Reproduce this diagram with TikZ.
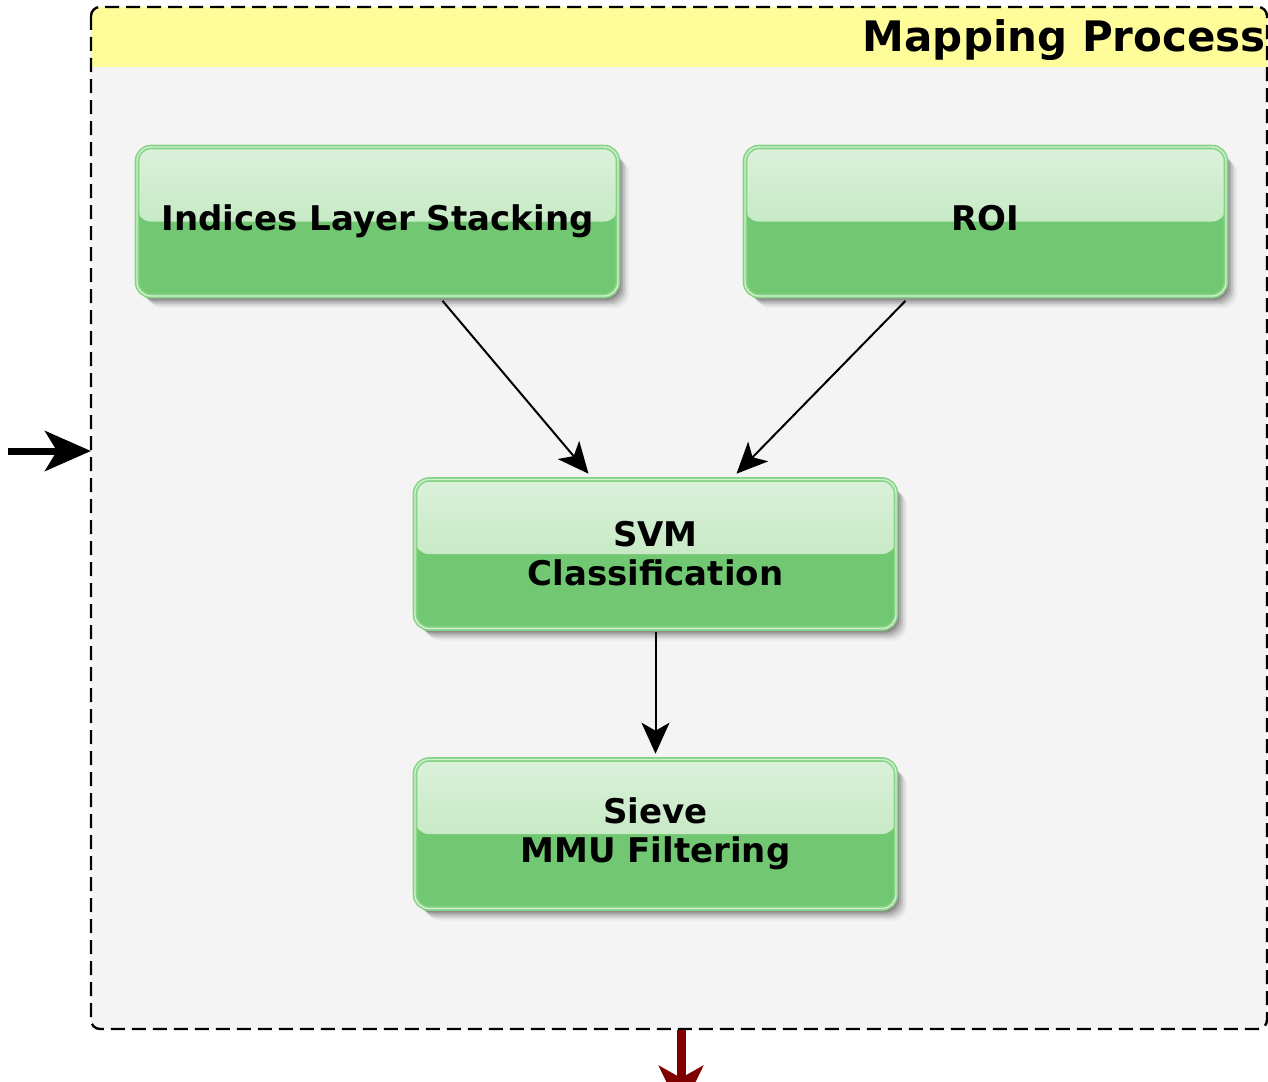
\documentclass[tikz,border=0pt]{standalone}
\usepackage{fontspec}
\setmainfont{DejaVu Sans}
\usetikzlibrary{arrows.meta,shadows}
\definecolor{bgcol}{HTML}{F4F4F4}
\definecolor{bannercol}{HTML}{FFFD99}
\definecolor{lowgreen}{HTML}{72C872}
\definecolor{topgreenA}{HTML}{DAF1DA}
\definecolor{topgreenB}{HTML}{B5E3B1}
\definecolor{edgegreen}{HTML}{86D386}
\definecolor{innerline}{HTML}{D2F0D0}
\definecolor{darkredcol}{HTML}{800000}
\tikzset{
  greenbox/.style={rectangle, rounded corners=14pt, minimum width=481pt, minimum height=149pt,
    draw=edgegreen, line width=1.6pt, double=innerline, double distance=1.4pt,
    fill=lowgreen, align=center,
    font=\fontsize{34}{39}\selectfont\bfseries,
    drop shadow={shadow xshift=3pt, shadow yshift=-4pt, opacity=0.16, fill=black},
    drop shadow={shadow xshift=5pt, shadow yshift=-6pt, opacity=0.13, fill=black},
    drop shadow={shadow xshift=7pt, shadow yshift=-8pt, opacity=0.10, fill=black},
    drop shadow={shadow xshift=9pt, shadow yshift=-10pt, opacity=0.07, fill=black},
    drop shadow={shadow xshift=11pt, shadow yshift=-12pt, opacity=0.04, fill=black},
    path picture={\fill[top color=topgreenA, bottom color=topgreenB]
      (path picture bounding box.west) rectangle (path picture bounding box.north east);}},
  flow/.style={line width=2pt, -{Stealth[length=31pt, width=28pt, inset=8pt]}},
  framestyle/.style={dashed, dash pattern=on 14pt off 7pt, line width=2.4pt, rounded corners=9pt}
}
\begin{document}
\begin{tikzpicture}[x=1pt, y=-1pt]
\useasboundingbox (0,0) rectangle (1268,1081);
% container
\fill[bgcol, rounded corners=9pt] (91,7) rectangle (1267,1029);
\begin{scope}
  \clip[rounded corners=9pt] (91,7) rectangle (1267,1029);
  \fill[bannercol] (91,7) rectangle (1267,67);
\end{scope}
\draw[framestyle] (91,7) rectangle (1267,1029);
\node[anchor=base east, font=\fontsize{42}{48}\selectfont\bfseries, inner sep=0pt] (title) at (1266,52) {Mapping Process};
% boxes
\node[greenbox] (ind) at (377.5,221.5) {Indices Layer Stacking};
\node[greenbox] (roi) at (985.5,221.5) {\vphantom{Ig}ROI};
\node[greenbox] (svm) at (655.5,554) {SVM\\Classification};
\node[greenbox] (sieve) at (655.5,834) {Sieve\\MMU Filtering};
% connectors
\draw[flow] ([xshift=65pt, yshift=-4pt]ind.south) -- ([xshift=-67pt, yshift=5pt]svm.north);
\draw[flow] ([xshift=-80pt, yshift=-4pt]roi.south) -- ([xshift=81pt, yshift=5pt]svm.north);
\draw[flow] ([yshift=-3pt]svm.south) -- ([yshift=5pt]sieve.north);
% in / out arrows
\coordinate (inStart) at (8,451);
\coordinate (inEnd) at (91,451);
\draw[line width=7pt, -{Stealth[length=46pt, width=40pt, inset=12pt]}] (inStart) -- (inEnd);
\coordinate (outStart) at (681,1030);
\coordinate (outEnd) at (681,1112);
\draw[darkredcol, line width=9pt, -{Stealth[length=46pt, width=44pt, inset=12pt]}] (outStart) -- (outEnd);
\end{tikzpicture}
\end{document}
